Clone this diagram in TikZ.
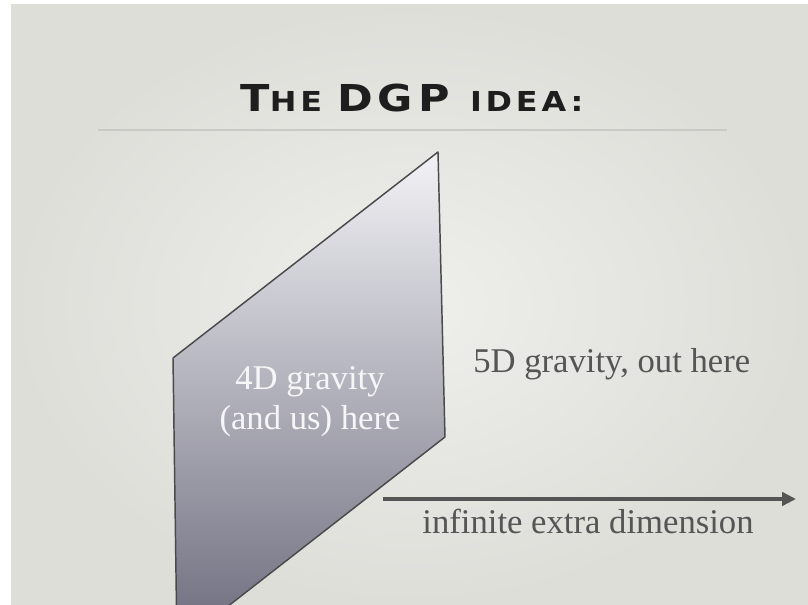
\documentclass[tikz,border=0pt]{standalone}
\usepackage{fontspec}
\setmainfont{Liberation Serif}
\newfontfamily\titlefont[LetterSpace=12]{DejaVu Sans}
\definecolor{Ink}{HTML}{1E1E1E}
\definecolor{Slate}{HTML}{555555}
\definecolor{Frame}{HTML}{4A4A4C}
\definecolor{Rule}{HTML}{C9CAC5}
\definecolor{SlideLight}{HTML}{EFF0EC}
\definecolor{SlideEdge}{HTML}{DDDED8}
\definecolor{PaneTop}{HTML}{F2F2F6}
\definecolor{PaneBottom}{HTML}{6C6B7C}
\definecolor{PaneText}{HTML}{F6F6F8}
\usetikzlibrary{arrows.meta}
\newcommand{\capsbig}{\fontsize{27.8}{30}\selectfont}
\newcommand{\capssmall}{\fontsize{20.6}{24}\selectfont}

\begin{document}
\begin{tikzpicture}[
    x=0.75pt, y=-0.75pt,
    label/.style={font=\fontsize{26}{30}\selectfont, text=Slate, inner sep=0pt},
    pane/.style={draw=Frame, line width=1.1pt, line join=round,
      top color=PaneTop, bottom color=PaneBottom},
    axis/.style={-{Triangle[length=10.5pt,width=10pt]}, line width=2.6pt, Slate}
  ]
    \useasboundingbox (0,0) rectangle (808,605);
    \fill[white] (0,0) rectangle (808,605);
    \shade[inner color=SlideLight, outer color=SlideEdge] (11,5) rectangle (808,605);

    % title and rule
    \node[anchor=base, inner sep=0pt, text=Ink] (title) at (412,112)
      {\scalebox{1.16}[1]{\titlefont\bfseries\capsbig T\capssmall HE \capsbig DGP \capssmall IDEA:}};
    \draw[Rule, line width=0.8pt] (98,130) -- (727,130);

    % the brane
    \begin{scope}
      \clip (11,5) rectangle (808,605);
      \shadedraw[pane] (173,358) -- (438,152) -- (445,437) -- (177,646) -- cycle;
    \end{scope}

    \node[label, anchor=base, align=center, text=PaneText] (inside) at (310,430)
      {4D gravity\\(and us) here};
    \node[label, anchor=base west] (outside) at (473,373) {5D gravity, out here};

    % extra dimension
    \coordinate (axisstart) at (383,499);
    \coordinate (axisend) at (796,499);
    \draw[axis] (axisstart) -- (axisend);
    \node[label, anchor=base] (axislabel) at (588,534) {infinite extra dimension};
\end{tikzpicture}
\end{document}
